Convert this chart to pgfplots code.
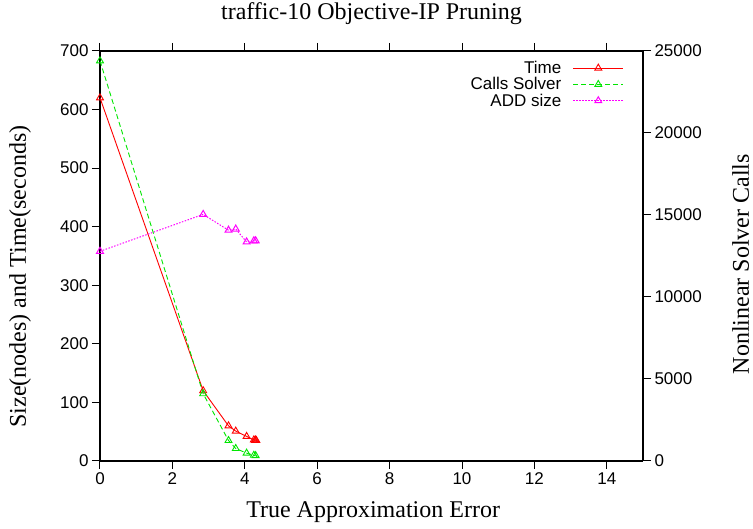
\documentclass[border=0pt]{standalone}
\usepackage{pgfplots}
\pgfplotsset{compat=1.18}
\usepackage{fontspec}
\setmainfont{Liberation Serif}
\setsansfont{Liberation Sans}

\definecolor{gpred}{RGB}{255,0,0}
\definecolor{gpgreen}{RGB}{0,230,0}
\definecolor{gpmag}{RGB}{255,0,255}

\pgfplotsset{
  gpbase/.style={
    scale only axis, width=543pt, height=410pt,
    xmin=0, xmax=15, xtick={0,2,...,14},
    tick align=outside, major tick length=8pt,
    axis line style={line width=1.3pt},
    tick style={line width=1pt, black},
    tick label style={font=\sffamily\fontsize{17}{17}\selectfont},
    /pgf/number format/assume math mode=true,
    /pgf/number format/1000 sep={},
    scaled y ticks=false,
    label style={font=\fontsize{24}{24}\selectfont},
  },
  timestyle/.style={gpred, line width=0.9pt, mark=triangle, mark size=4pt, mark options={solid}},
  callstyle/.style={gpgreen, line width=0.9pt, dash pattern=on 5pt off 3pt, mark=triangle, mark size=4pt, mark options={solid}},
  addstyle/.style={gpmag, line width=1pt, dash pattern=on 1.5pt off 1.5pt, mark=triangle, mark size=4pt, mark options={solid}},
}

\begin{document}
\begin{tikzpicture}
\useasboundingbox (-100pt,-68pt) rectangle (653pt,461pt);

% left axis: size and time
\begin{axis}[gpbase,
  ymin=0, ymax=700, ytick={0,100,...,700},
  axis y line*=left, xtick pos=both,
  xlabel={True Approximation Error},
  ylabel={Size(nodes) and Time(seconds)},
  xlabel style={at={(axis description cs:0.503,-0.124)}, anchor=center},
  ylabel style={at={(axis description cs:-0.147,0.45)}, anchor=center, rotate=0},
  title={traffic-10 Objective-IP Pruning},
  title style={at={(axis description cs:0.5,1.076)}, anchor=center, font=\fontsize{24}{24}\selectfont},
]
\addplot[timestyle] coordinates {
(0,620) (2.85,120) (3.55,60) (3.75,51) (4.05,42) (4.25,36) (4.28,35) (4.3,36) (4.32,35)
};
\addplot[addstyle] coordinates {
(0,358) (2.85,421) (3.55,394) (3.75,396) (4.05,374) (4.25,376) (4.3,376)
};
\end{axis}

% right axis: solver calls
\begin{axis}[gpbase,
  ymin=0, ymax=25000, ytick={0,5000,...,25000},
  axis y line*=right, axis x line=none,
  ylabel={Nonlinear Solver Calls},
  ylabel style={at={(axis description cs:1.18,0.48)}, anchor=center, rotate=0},
  legend style={at={(axis description cs:1,1)}, anchor=north east,
    xshift=-16pt, yshift=-6pt, draw=none, fill=none,
    font=\sffamily\fontsize{17}{17}\selectfont,
    row sep=-1.5pt},
  legend cell align=right,
  legend plot pos=right,
  legend image code/.code={
    \path[draw=none] (0pt,0pt) -- (60pt,0pt);
    \draw[mark repeat=2, mark phase=2] plot coordinates {(10pt,0pt) (35pt,0pt) (60pt,0pt)};
  },
]
\addlegendimage{timestyle}
\addlegendentry{Time}
\addplot[callstyle] coordinates {
(0,24400) (2.85,4100) (3.55,1250) (3.75,760) (4.05,480) (4.25,350) (4.3,330)
};
\addlegendentry{Calls Solver}
\addlegendimage{addstyle}
\addlegendentry{ADD size}
\end{axis}
\end{tikzpicture}
\end{document}
